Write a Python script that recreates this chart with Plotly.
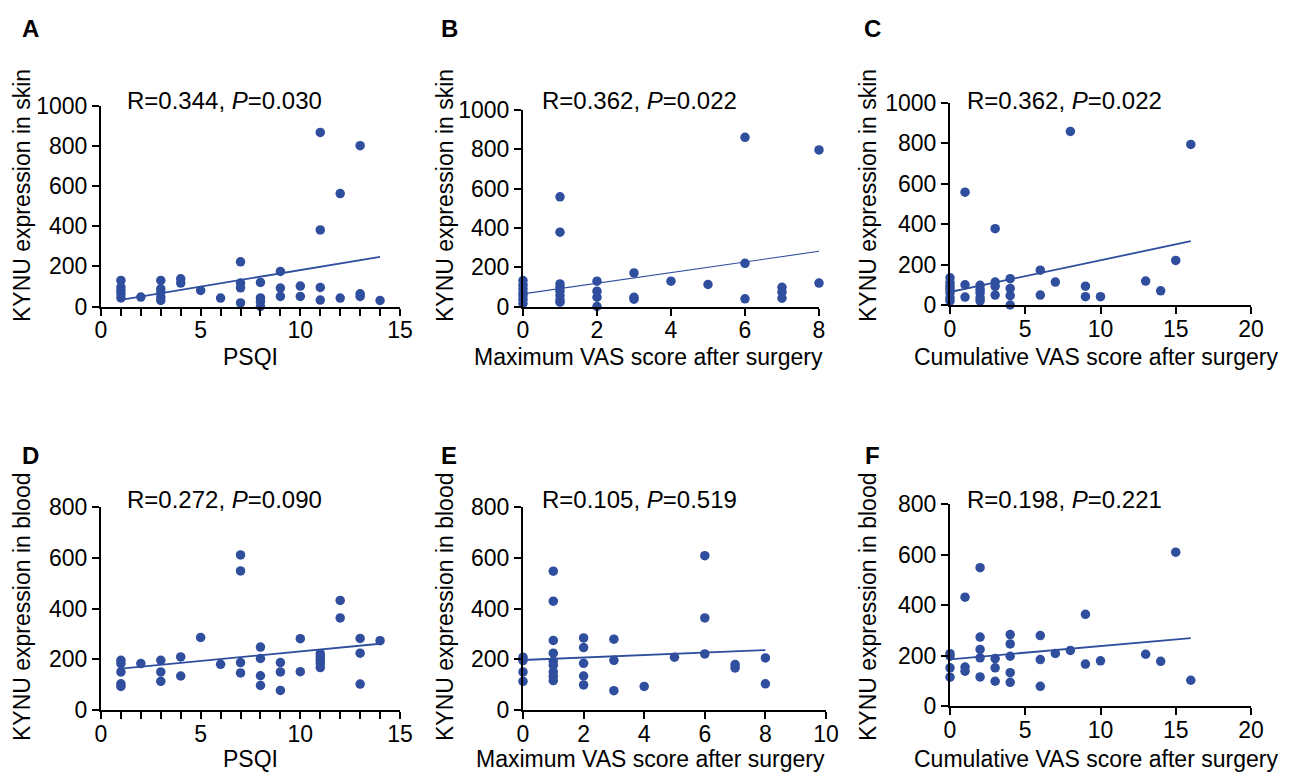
import plotly.graph_objects as go

# ---------------- data ----------------
# Panel A: PSQI vs KYNU skin
a_x = [1,1,1,1,1, 2, 3,3,3,3,3, 4,4, 5, 6, 7,7,7,7, 8,8,8,8, 9,9,9, 10,10, 11,11,11,11, 12,12, 13,13,13, 14]
a_y = [130,97,80,63,43, 47, 130,88,72,47,30, 138,117, 80, 42, 223,117,93,18, 120,43,25,0, 175,92,50, 102,50, 868,382,95,32, 563,42, 802,63,50, 30]
a_fit_x = [1, 14]
a_fit_y = [33, 248]

# Panel B: Maximum VAS vs KYNU skin
b_x = [0,0,0,0,0,0,0, 1,1,1,1,1,1,1,1, 2,2,2,2, 3,3,3, 4, 5, 6,6,6, 7,7,7, 8,8]
b_y = [132,110,90,70,55,35,15, 558,378,115,98,78,56,34,22, 129,78,47,0, 171,47,37, 129, 112, 861,220,39, 98,73,42, 797,119]
b_fit_x = [0, 8]
b_fit_y = [64, 281]

# Panel C: Cumulative VAS vs KYNU skin
c_x = [0,0,0,0,0,0,0, 1,1,1, 2,2,2,2,2, 3,3,3,3, 4,4,4,4, 6,6, 7, 8, 9,9, 10, 13, 14, 15, 16]
c_y = [134,110,93,77,61,36,20, 557,100,39, 97,77,61,36,20, 377,113,92,49, 130,82,46,0, 172,49, 113, 857, 93,41, 41, 118, 70, 220, 793]
c_fit_x = [0, 16]
c_fit_y = [64, 315]

# Panel D: PSQI vs KYNU blood
d_x = [1,1,1,1,1, 2, 3,3,3, 4,4, 5, 6, 7,7,7,7, 8,8,8,8, 9,9,9, 10,10, 11,11,11,11,11, 12,12, 13,13,13, 14]
d_y = [196,183,150,103,93, 183, 196,150,113, 209,134, 286, 180, 611,548,187,146, 248,203,135,97, 187,150,77, 281,151, 222,209,196,183,167, 432,363, 282,224,102, 273]
d_fit_x = [1, 14]
d_fit_y = [163, 261]

# Panel E: Maximum VAS vs KYNU blood
e_x = [0,0,0,0, 1,1,1,1,1,1,1,1,1, 2,2,2,2,2, 3,3,3, 4, 5, 6,6,6, 7,7, 8,8]
e_y = [208,195,150,113, 547,429,274,224,192,176,150,133,116, 284,246,184,134,99, 279,196,76, 93, 208, 608,363,221, 179,166, 205,103]
e_fit_x = [0, 8]
e_fit_y = [197, 236]

# Panel F: Cumulative VAS vs KYNU blood
f_x = [0,0,0,0, 1,1,1, 2,2,2,2,2, 3,3,3, 4,4,4,4,4, 6,6,6, 7, 8, 9,9, 10, 13, 14, 15, 16]
f_y = [207,197,151,114, 431,154,138, 548,273,224,191,115, 188,151,98, 283,246,197,132,94, 279,184,78, 208, 220, 363,166, 179, 205, 177, 609, 102]
f_fit_x = [0, 16]
f_fit_y = [185, 269]

letters = ["A", "B", "C", "D", "E", "F"]
stats = ["R=0.344, <i>P</i>=0.030", "R=0.362, <i>P</i>=0.022", "R=0.362, <i>P</i>=0.022",
         "R=0.272, <i>P</i>=0.090", "R=0.105, <i>P</i>=0.519", "R=0.198, <i>P</i>=0.221"]
x_titles = ["PSQI", "Maximum VAS score after surgery", "Cumulative VAS score after surgery",
            "PSQI", "Maximum VAS score after surgery", "Cumulative VAS score after surgery"]
y_titles = ["KYNU expression in skin"] * 3 + ["KYNU expression in blood"] * 3
x_ranges = [[0, 15], [0, 8], [0, 20], [0, 15], [0, 10], [0, 20]]
x_dticks = [5, 2, 5, 5, 2, 5]
y_ranges = [[0, 1000]] * 3 + [[0, 800]] * 3
y_dticks = [200] * 3 + [200] * 3

# ---------------- layout geometry (pixels) ----------------
OFF = 8  # page body margin
W, H = 1291 - OFF, 774 - OFF
# (left, right, bottom, top) pixel positions of each plotting area
boxes = [(101, 400, 306.5, 106), (523, 819, 306.5, 110), (950, 1251, 305, 102.5),
         (101, 400, 710, 507), (523, 826, 710, 507), (950, 1251, 706, 504)]
letter_pos = [(30, 28), (449, 28), (872, 28), (30, 455), (449, 455), (872, 455)]
stat_pos = [(125, 100), (540, 100), (965, 100), (125, 499), (540, 499), (965, 499)]
xt_pos = [(250, 357), (648, 357), (1096, 357), (250, 759), (650, 759), (1096, 759)]
yt_pos = [(22, 196), (445, 196), (868, 196), (22, 607), (445, 607), (868, 607)]

COLOR = "#2F4E9E"
FONT = "Arial, Liberation Sans, sans-serif"

def px(x):
    return (x - OFF) / W

def py(y):
    return 1 - (y - OFF) / H

fig = go.Figure()
xs = [a_x, b_x, c_x, d_x, e_x, f_x]
ys = [a_y, b_y, c_y, d_y, e_y, f_y]
fxs = [a_fit_x, b_fit_x, c_fit_x, d_fit_x, e_fit_x, f_fit_x]
fys = [a_fit_y, b_fit_y, c_fit_y, d_fit_y, e_fit_y, f_fit_y]
line_widths = [1.8, 1.1, 1.8, 1.8, 1.8, 1.8]

annotations = []
for i in range(6):
    sfx = "" if i == 0 else str(i + 1)
    xa, ya = "x" + sfx, "y" + sfx
    fig.add_trace(go.Scatter(x=xs[i], y=ys[i], mode="markers", xaxis=xa, yaxis=ya,
                             marker=dict(color=COLOR, size=9.5), cliponaxis=False, showlegend=False))
    fig.add_trace(go.Scatter(x=fxs[i], y=fys[i], mode="lines", xaxis=xa, yaxis=ya,
                             line=dict(color=COLOR, width=line_widths[i]), cliponaxis=False,
                             showlegend=False))
    l, r, b, t = boxes[i]
    xaxis = dict(domain=[px(l), px(r)], anchor=ya, range=x_ranges[i], dtick=x_dticks[i], tick0=0,
                 showgrid=False, zeroline=False, showline=True, linecolor="black", linewidth=2,
                 ticks="outside", ticklen=7, tickwidth=2, tickcolor="black", automargin=False,
                 ticklabelstandoff=-5,
                 tickfont=dict(family=FONT, size=23, color="black"), fixedrange=True)
    if x_ranges[i][1] == 15:
        xaxis["minor"] = dict(dtick=1, ticks="outside", ticklen=7, tickwidth=2, tickcolor="black")
    yaxis = dict(domain=[py(b), py(t)], anchor=xa, range=y_ranges[i], dtick=y_dticks[i], tick0=0,
                 showgrid=False, zeroline=False, showline=True, linecolor="black", linewidth=2,
                 ticks="outside", ticklen=7, tickwidth=2, tickcolor="black", automargin=False,
                 tickfont=dict(family=FONT, size=23, color="black"), fixedrange=True)
    fig.update_layout(**{"xaxis" + sfx: xaxis, "yaxis" + sfx: yaxis})

    annotations.append(dict(text="<b>%s</b>" % letters[i], x=px(letter_pos[i][0]), y=py(letter_pos[i][1]),
                            xref="paper", yref="paper", showarrow=False, xanchor="center", yanchor="middle",
                            font=dict(family=FONT, size=24, color="black")))
    annotations.append(dict(text=stats[i], x=px(stat_pos[i][0]), y=py(stat_pos[i][1]),
                            xref="paper", yref="paper", showarrow=False, xanchor="left", yanchor="middle",
                            font=dict(family=FONT, size=24, color="black")))
    annotations.append(dict(text=x_titles[i], x=px(xt_pos[i][0]), y=py(xt_pos[i][1]),
                            xref="paper", yref="paper", showarrow=False, xanchor="center", yanchor="middle",
                            font=dict(family=FONT, size=23, color="black")))
    annotations.append(dict(text=y_titles[i], x=px(yt_pos[i][0]), y=py(yt_pos[i][1]), textangle=-90,
                            xref="paper", yref="paper", showarrow=False, xanchor="center", yanchor="middle",
                            font=dict(family=FONT, size=23, color="black")))

fig.update_layout(width=W, height=H, margin=dict(l=0, r=0, t=0, b=0, autoexpand=False),
                  template="none",
                  paper_bgcolor="white", plot_bgcolor="white", annotations=annotations)

fig.write_html("out.html", config={"responsive": False})
